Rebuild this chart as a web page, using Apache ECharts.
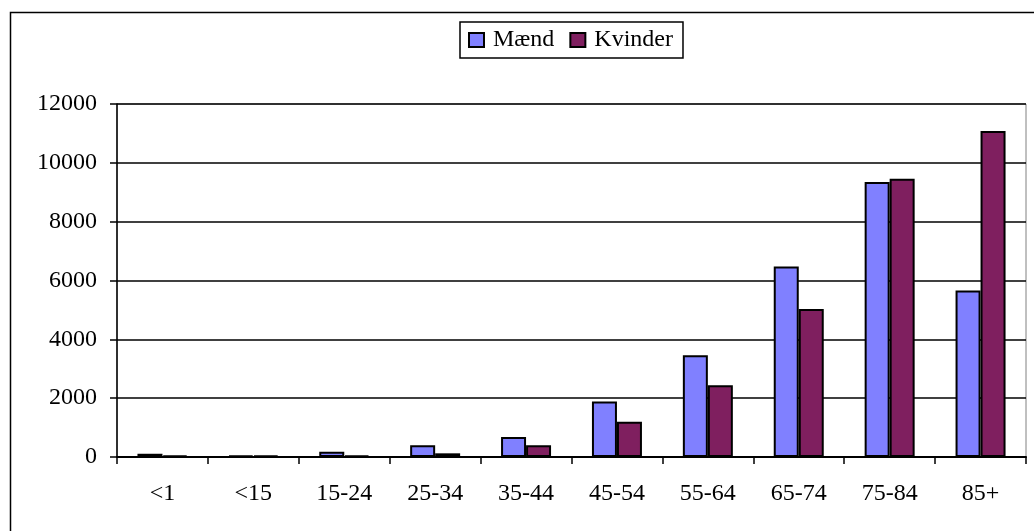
<!DOCTYPE html>
<html>
<head>
<meta charset="utf-8">
<script src="https://cdn.jsdelivr.net/npm/echarts@6/dist/echarts.min.js"></script>
<style>
html,body{margin:0;padding:0;background:#fff;}
#chart{width:1034px;height:531px;}
</style>
</head>
<body>
<div id="chart"></div>
<script>
const categories = ['<1', '<15', '15-24', '25-34', '35-44', '45-54', '55-64', '65-74', '75-84', '85+'];
const maend = [110, 45, 180, 400, 680, 1890, 3460, 6480, 9350, 5660];
const kvinder = [50, 45, 50, 125, 400, 1200, 2440, 5030, 9460, 11080];
const seriesNames = ['Mænd', 'Kvinder'];
const yTicks = { min: 0, max: 12000, interval: 2000 };

const font = 'Liberation Serif, Times New Roman, serif';
const chart = echarts.init(document.getElementById('chart'), null, { renderer: 'canvas' });
chart.setOption({
  backgroundColor: '#fff',
  animation: false,
  graphic: [{
    type: 'rect',
    shape: { x: 10.5, y: 12.5, width: 1040, height: 540 },
    style: { fill: 'none', stroke: '#000', lineWidth: 1.5 },
    silent: true
  }],
  legend: {
    data: seriesNames,
    left: 460,
    top: 22,
    borderColor: '#000',
    borderWidth: 1.5,
    padding: [6, 10, 6, 8],
    itemWidth: 15,
    itemHeight: 14,
    itemGap: 15,
    icon: 'rect',
    itemStyle: { borderColor: '#000', borderWidth: 2 },
    textStyle: { fontFamily: font, fontSize: 24, color: '#000', padding: [0, 0, 0, 4] }
  },
  grid: {
    left: 117, right: 8, top: 104, bottom: 74,
    show: true, borderColor: '#808080', borderWidth: 1, backgroundColor: 'transparent'
  },
  xAxis: {
    type: 'category',
    data: categories,
    boundaryGap: true,
    axisLine: { lineStyle: { color: '#000', width: 2 } },
    axisTick: { show: true, alignWithLabel: false, length: 7, lineStyle: { color: '#000', width: 1.5 } },
    axisLabel: { fontFamily: font, fontSize: 24, color: '#000', margin: 25 },
    splitLine: { show: false }
  },
  yAxis: {
    type: 'value',
    min: yTicks.min, max: yTicks.max, interval: yTicks.interval,
    axisLine: { show: true, lineStyle: { color: '#000', width: 1.5 } },
    axisTick: { show: true, length: 7, lineStyle: { color: '#000', width: 1.5 } },
    axisLabel: { fontFamily: font, fontSize: 24, color: '#000', margin: 20, formatter: function (v) { return String(v); } },
    splitLine: { show: true, lineStyle: { color: '#000', width: 1.5 } }
  },
  series: [
    {
      name: seriesNames[0], type: 'bar', data: maend,
      barGap: '0%', barCategoryGap: '45%',
      itemStyle: { color: '#8080ff', borderColor: '#000', borderWidth: 2 }
    },
    {
      name: seriesNames[1], type: 'bar', data: kvinder,
      barGap: '0%', barCategoryGap: '45%',
      itemStyle: { color: '#7f1f5f', borderColor: '#000', borderWidth: 2 }
    }
  ]
});
</script>
</body>
</html>
